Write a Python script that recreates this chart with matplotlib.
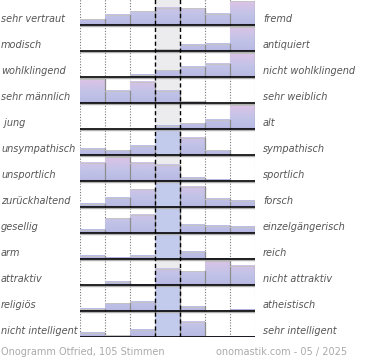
import numpy as np
import matplotlib
matplotlib.use("Agg")
import matplotlib.pyplot as plt
from matplotlib.colors import LinearSegmentedColormap
from matplotlib.transforms import blended_transform_factory

left_labels = ["sehr vertraut", "modisch", "wohlklingend", "sehr männlich", " jung",
               "unsympathisch", "unsportlich", "zurückhaltend", "gesellig", "arm",
               "attraktiv", "religiös", "nicht intelligent"]
right_labels = ["fremd", "antiquiert", "nicht wohlklingend", "sehr weiblich", "alt",
                "sympathisch", "sportlich", "forsch", "einzelgängerisch", "reich",
                "nicht attraktiv", "atheistisch", "sehr intelligent"]

# bar heights per row (100 = tallest regular bar, values above ~108 are clipped)
r01 = [25, 42, 58, 71, 70, 49, 100]
r02 = [0, 0, 0, 8, 26, 30, 100]
r03 = [0, 0, 11, 29, 42, 57, 100]
r04 = [100, 53, 90, 53, 8, 0, 0]
r05 = [0, 0, 0, 14, 25, 38, 100]
r06 = [28, 20, 40, 130, 74, 20, 0]
r07 = [78, 100, 78, 67, 14, 7, 0]
r08 = [15, 40, 75, 130, 86, 36, 28]
r09 = [15, 62, 75, 130, 36, 32, 25]
r10 = [14, 5, 14, 130, 32, 2, 4]
r11 = [0, 15, 1, 67, 58, 100, 82]
r12 = [10, 33, 40, 130, 20, 4, 5]
r13 = [17, 8, 30, 130, 65, 2, 2]
rows = [r01, r02, r03, r04, r05, r06, r07, r08, r09, r10, r11, r12, r13]

footer_left = "Onogramm Otfried, 105 Stimmen"
footer_right = "onomastik.com - 05 / 2025"

W, H = 370, 360
fig = plt.figure(figsize=(W / 100, H / 100), dpi=100)
ax = fig.add_axes([80 / W, 22.7 / H, 175 / W, 338 / H])
n = len(rows)
ax.set_xlim(0, 7)
ax.set_ylim(0, n)
ax.axis("off")

full = 24.0 / 26.0  # height of a 100-bar in row units
cmap = LinearSegmentedColormap.from_list(
    "g", [(0.0, "#a9a3d6"), (0.06, "#b9bbe4"), (0.45, "#c2c3e8"), (1.0, "#dcc3e6")])

# centre column background
ax.axvspan(3, 4, 0, 1, color="#ececee", zorder=0, lw=0)

for i, vals in enumerate(rows):
    base = n - 1 - i
    for j, v in enumerate(vals):
        if v <= 0:
            continue
        h = min(v / 100 * full, 1.0)
        if v > 108:
            ax.fill_between([j, j + 1], base, base + 1.0, color="#c3cbec", lw=0, zorder=2)
            top = base + 1.0
        else:
            grad = np.linspace(0, h / full, 64).reshape(-1, 1)
            ax.imshow(grad, cmap=cmap, vmin=0, vmax=1, origin="lower", aspect="auto",
                      extent=(j, j + 1, base, base + h), zorder=2, interpolation="bilinear")
            top = base + h
            ax.plot([j, j + 1], [top, top], color="#c4c4c4", lw=0.7, zorder=3)
        ax.plot([j + 1, j + 1], [base, top], color="#8e8e8e", lw=0.9, zorder=3)
    ax.plot([0, 7], [base - 0.03, base - 0.03], color="#b0b0b0", lw=1.0, zorder=4)
    ax.plot([0, 7], [base, base], color="black", lw=1.2, zorder=5)

# grid lines
for x in [0, 1, 2, 5, 6, 7]:
    ax.plot([x, x], [0, n], color="#777777", lw=0.8, ls=(0, (1, 1.5)), zorder=1)
for x in [3, 4]:
    ax.plot([x, x], [0, n], color="black", lw=1.0, ls=(0, (3, 2)), zorder=6)

ax.set_xlim(0, 7)
ax.set_ylim(0, n)

tr = blended_transform_factory(fig.transFigure, ax.transData)
for i in range(n):
    base = n - 1 - i
    ax.text(1 / W, base + 6 / 26, left_labels[i], transform=tr, ha="left", va="center",
            fontsize=7, style="italic", color="#555555", clip_on=False)
    ax.text(263 / W, base + 6 / 26, right_labels[i], transform=tr, ha="left", va="center",
            fontsize=7, style="italic", color="#555555", clip_on=False)

fig.text(1 / W, 1 - 352 / H, footer_left, ha="left", va="center", fontsize=7, color="#aaaaaa")
fig.text(347 / W, 1 - 352 / H, footer_right, ha="right", va="center", fontsize=7, color="#aaaaaa")

fig.savefig("out.png", dpi=100)
